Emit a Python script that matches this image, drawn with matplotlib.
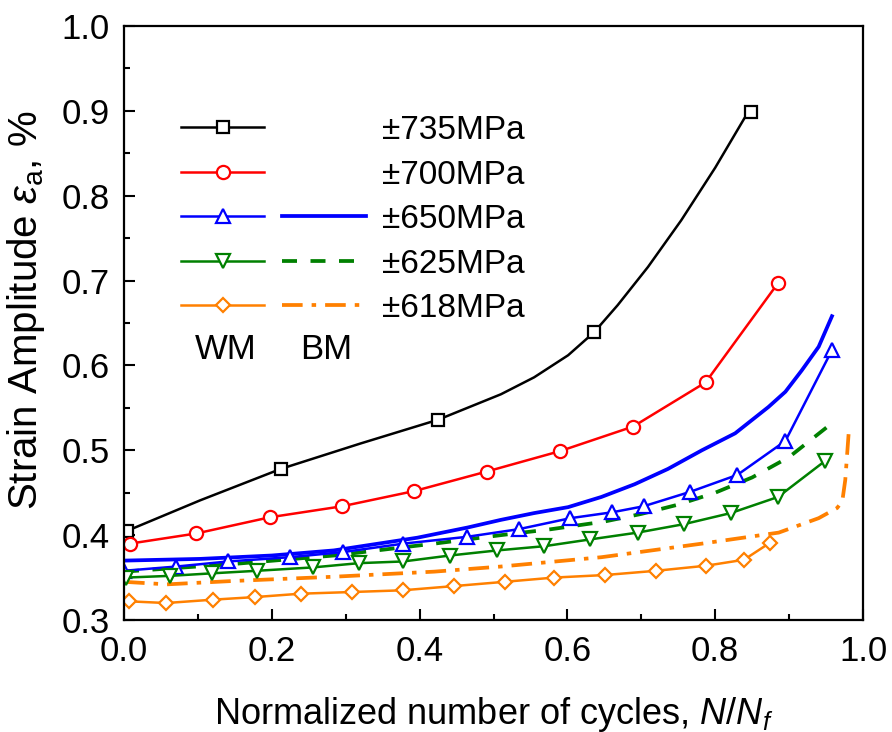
import matplotlib

matplotlib.use("Agg")
import matplotlib.pyplot as plt
from matplotlib.lines import Line2D
from matplotlib.ticker import MultipleLocator

plt.rcParams["font.family"] = ["Liberation Sans", "DejaVu Sans"]
plt.rcParams["mathtext.fontset"] = "custom"
plt.rcParams["mathtext.rm"] = "Liberation Sans"
plt.rcParams["mathtext.it"] = "Liberation Sans:italic"

# ---- data (WM = markers, BM = plain lines) ----
wm735_x = [0.004, 0.212, 0.425, 0.636, 0.848]
wm735_y = [0.405, 0.478, 0.536, 0.639, 0.899]
wm735_curve_x = [0.004, 0.103, 0.212, 0.320, 0.425, 0.510, 0.555, 0.601, 0.636,
                 0.668, 0.709, 0.754, 0.800, 0.840, 0.848]
wm735_curve_y = [0.405, 0.441, 0.478, 0.508, 0.536, 0.566, 0.586, 0.612, 0.639,
                 0.671, 0.716, 0.771, 0.833, 0.892, 0.899]

wm700_x = [0.008, 0.098, 0.197, 0.295, 0.393, 0.491, 0.590, 0.689, 0.787, 0.885]
wm700_y = [0.390, 0.402, 0.421, 0.434, 0.452, 0.475, 0.499, 0.528, 0.580, 0.697]

wm650_x = [0.0, 0.071, 0.141, 0.224, 0.296, 0.378, 0.464, 0.534, 0.604, 0.661,
           0.703, 0.766, 0.830, 0.895, 0.958]
wm650_y = [0.358, 0.363, 0.369, 0.374, 0.380, 0.390, 0.398, 0.407, 0.420, 0.427,
           0.434, 0.451, 0.471, 0.511, 0.618]

wm625_x = [0.003, 0.062, 0.119, 0.180, 0.256, 0.318, 0.378, 0.441, 0.505, 0.569,
           0.631, 0.695, 0.758, 0.821, 0.885, 0.948]
wm625_y = [0.350, 0.352, 0.355, 0.358, 0.362, 0.367, 0.369, 0.376, 0.382, 0.387,
           0.395, 0.403, 0.413, 0.426, 0.445, 0.487]

wm618_x = [0.007, 0.057, 0.121, 0.177, 0.239, 0.309, 0.377, 0.447, 0.515, 0.582,
           0.651, 0.720, 0.788, 0.839, 0.874]
wm618_y = [0.322, 0.320, 0.324, 0.327, 0.331, 0.333, 0.335, 0.340, 0.345, 0.350,
           0.353, 0.358, 0.364, 0.371, 0.391]

bm650_x = [0.0, 0.103, 0.200, 0.284, 0.397, 0.465, 0.510, 0.555, 0.601, 0.646,
           0.691, 0.736, 0.782, 0.827, 0.872, 0.895, 0.917, 0.940, 0.958]
bm650_y = [0.370, 0.372, 0.376, 0.382, 0.397, 0.409, 0.418, 0.426, 0.433, 0.445,
           0.460, 0.478, 0.500, 0.520, 0.551, 0.569, 0.594, 0.622, 0.658]

bm625_x = [0.0, 0.148, 0.284, 0.420, 0.510, 0.578, 0.650, 0.700, 0.750, 0.800,
           0.850, 0.900, 0.961]
bm625_y = [0.357, 0.366, 0.376, 0.390, 0.400, 0.407, 0.416, 0.425, 0.436, 0.450,
           0.468, 0.492, 0.534]

bm618_x = [0.0, 0.058, 0.148, 0.284, 0.420, 0.510, 0.646, 0.782, 0.886, 0.940,
           0.965, 0.972, 0.976, 0.981]
bm618_y = [0.345, 0.342, 0.346, 0.351, 0.357, 0.363, 0.374, 0.390, 0.403, 0.420,
           0.432, 0.440, 0.465, 0.525]

labels = ["\u00b1735MPa", "\u00b1700MPa", "\u00b1650MPa", "\u00b1625MPa", "\u00b1618MPa"]

BLACK, RED, BLUE, GREEN, ORANGE = "black", "#ff0000", "#0000ff", "#008000", "#ff8000"
WM_LW, BM_LW = 1.8, 2.7
DASHED = (4.0, 3.6)
DASHDOT = (5.5, 2.4, 1.2, 2.4)

fig = plt.figure(figsize=(8.92, 7.32), dpi=100)
ax = fig.add_axes([124 / 892, 112 / 732, 739 / 892, 594 / 732])

mk = dict(markerfacecolor="white", markeredgewidth=1.6, linewidth=WM_LW)

# BM curves (drawn first, under the WM curves)
ax.plot(bm650_x, bm650_y, color=BLUE, linewidth=BM_LW)
ax.plot(bm625_x, bm625_y, color=GREEN, linewidth=BM_LW, dashes=DASHED)
ax.plot(bm618_x, bm618_y, color=ORANGE, linewidth=BM_LW, dashes=DASHDOT)

# WM curves
ax.plot(wm735_curve_x, wm735_curve_y, color=BLACK, linewidth=WM_LW)
ax.plot(wm735_x, wm735_y, "s", color=BLACK, markersize=8.5,
        markerfacecolor="white", markeredgewidth=1.6)
ax.plot(wm700_x, wm700_y, "-o", color=RED, markersize=9.5, **mk)
ax.plot(wm650_x, wm650_y, "-^", color=BLUE, markersize=10, **mk)
ax.plot(wm625_x, wm625_y, "-v", color=GREEN, markersize=10, **mk)
ax.plot(wm618_x, wm618_y, "-D", color=ORANGE, markersize=7.5, **mk)

# legend: WM column (markers) + BM column (lines)
wm_handles = [
    Line2D([], [], color=BLACK, marker="s", markersize=8.5, **mk),
    Line2D([], [], color=RED, marker="o", markersize=9.5, **mk),
    Line2D([], [], color=BLUE, marker="^", markersize=10, **mk),
    Line2D([], [], color=GREEN, marker="v", markersize=10, **mk),
    Line2D([], [], color=ORANGE, marker="D", markersize=7.5, **mk),
]
blank = Line2D([], [], linestyle="none")
bm_handles = [
    blank,
    blank,
    Line2D([], [], color=BLUE, linewidth=BM_LW),
    Line2D([], [], color=GREEN, linewidth=BM_LW, dashes=DASHED),
    Line2D([], [], color=ORANGE, linewidth=BM_LW, dashes=DASHDOT),
]
ax.legend(wm_handles + bm_handles, [""] * 5 + labels, ncol=2,
          loc="upper left", bbox_to_anchor=(0.077, 0.850), frameon=False,
          fontsize=24, handlelength=2.5, handletextpad=0.48, columnspacing=0.06,
          labelspacing=0.405, borderpad=0, borderaxespad=0, numpoints=1)
ax.text(0.137, 0.455, "WM", transform=ax.transAxes, fontsize=25,
        ha="center", va="center")
ax.text(0.273, 0.455, "BM", transform=ax.transAxes, fontsize=25,
        ha="center", va="center")

ax.set_xlim(0, 1.0)
ax.set_ylim(0.3, 1.0)
ax.xaxis.set_major_locator(MultipleLocator(0.2))
ax.xaxis.set_minor_locator(MultipleLocator(0.1))
ax.yaxis.set_major_locator(MultipleLocator(0.1))
ax.yaxis.set_minor_locator(MultipleLocator(0.05))
ax.xaxis.set_major_formatter(lambda v, p: f"{v:.1f}")
ax.yaxis.set_major_formatter(lambda v, p: f"{v:.1f}")
ax.tick_params(which="both", direction="in", top=False, right=False,
               width=1.5, labelsize=25)
ax.tick_params(axis="x", which="major", length=8, pad=11)
ax.tick_params(axis="y", which="major", length=8, pad=10)
ax.tick_params(which="minor", length=4.5)
for sp in ax.spines.values():
    sp.set_linewidth(1.6)

ax.set_xlabel("Normalized number of cycles, $N$/$N_f$", fontsize=26, labelpad=19)
ax.set_ylabel("Strain Amplitude $\\varepsilon_{\\mathrm{a}}$, %", fontsize=29)
ax.yaxis.set_label_coords(-0.104, 0.522)

fig.savefig("out.png", dpi=100)
